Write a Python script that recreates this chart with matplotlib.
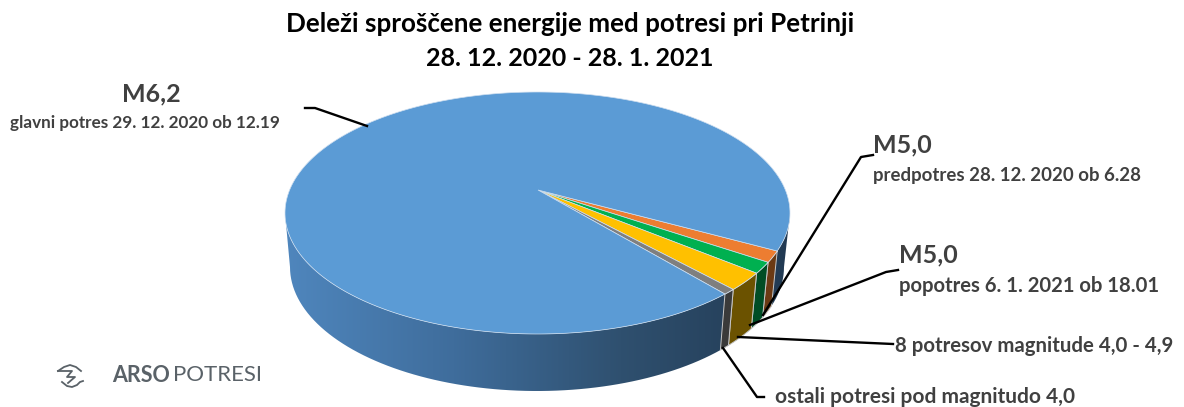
import numpy as np
import matplotlib
matplotlib.use('Agg')
import matplotlib.pyplot as plt
from matplotlib.colors import LinearSegmentedColormap
from matplotlib.patches import Polygon

# shares of released energy, % (clockwise)
names = ['predpotres', 'popotres', '8 potresov', 'ostali', 'glavni potres']
shares = [1.6, 1.6, 2.6, 0.8, 93.4]
top_colors = ['#ed7d31', '#00b050', '#ffc000', '#7f7f7f', '#5b9bd5']
side_colors = ['#6b3a14', '#004d25', '#6b5200', '#3a3a3a', None]

title_lines = ['Deleži sproščene energije med potresi pri Petrinji', '28. 12. 2020 - 28. 1. 2021']
label_color = '#404040'

plt.rcParams['font.family'] = ['Lato', 'DejaVu Sans']

fig = plt.figure(figsize=(11.84, 4.07), dpi=100)
ax = fig.add_axes([0, 0, 1, 1])


def rim(t):
    return np.column_stack([537.5 + 252.5 * np.cos(t), 213 + 121 * np.sin(t)])


def rim_low(t):
    return np.column_stack([537 + 247 * np.cos(t), 267 + 124 * np.sin(t)])


def wall(t0, t1):
    t = np.linspace(t0, t1, 100)
    return np.vstack([rim(t), rim_low(t)[::-1]])


start = np.radians(18.3)
edges = start + np.cumsum([0] + shares) / 100 * 2 * np.pi

# side of the pie, gradient from left to right
cmap = LinearSegmentedColormap.from_list('side', ['#4f86bd', '#3f6d9c', '#2f506f', '#223a53'])
im = ax.imshow(np.linspace(0, 1, 256).reshape(1, -1), cmap=cmap, extent=[285, 790, 400, 200], aspect='auto', zorder=1)
wall_all = Polygon(wall(0, np.pi), closed=True, transform=ax.transData, facecolor='none', edgecolor='none')
ax.add_patch(wall_all)
im.set_clip_path(wall_all)

for i in range(4):
    ax.add_patch(Polygon(wall(edges[i], edges[i + 1]), closed=True, facecolor=side_colors[i],
                         edgecolor='#c8c8c8', linewidth=0.7, zorder=2))

# top face
for i in range(5):
    t = np.linspace(edges[i], edges[i + 1], 300)
    pts = np.vstack([[538, 190], rim(t)])
    ax.add_patch(Polygon(pts, closed=True, facecolor=top_colors[i], edgecolor='#cfdff0', linewidth=0.5, zorder=3))

# leader lines
leaders = [
    ([305, 315, 367], [108, 108, 126]),
    ([873, 861, 763], [155, 157, 315]),
    ([898, 886, 750], [270, 272, 325]),
    ([893, 738], [344, 337]),
    ([764, 757, 723], [397, 397, 348]),
]
for xs, ys in leaders:
    ax.plot(xs, ys, color='black', linewidth=1.7, zorder=4)

# title
ax.text(570, 24, title_lines[0], ha='center', va='center', fontsize=18.7, fontweight='bold', color='black')
ax.text(570, 58, title_lines[1], ha='center', va='center', fontsize=18, fontweight='bold', color='black')

# labels
ax.text(151, 94, 'M6,2', ha='center', va='center', fontsize=18, fontweight='bold', color=label_color)
ax.text(10, 123, 'glavni potres 29. 12. 2020 ob 12.19', ha='left', va='center', fontsize=12.3, fontweight='bold', color=label_color)
ax.text(873, 145, 'M5,0', ha='left', va='center', fontsize=18, fontweight='bold', color=label_color)
ax.text(873, 176, 'predpotres 28. 12. 2020 ob 6.28', ha='left', va='center', fontsize=13.4, fontweight='bold', color=label_color)
ax.text(899, 255, 'M5,0', ha='left', va='center', fontsize=18, fontweight='bold', color=label_color)
ax.text(899, 286, 'popotres 6. 1. 2021 ob 18.01', ha='left', va='center', fontsize=14.6, fontweight='bold', color=label_color)
ax.text(895, 346, '8 potresov magnitude 4,0 - 4,9', ha='left', va='center', fontsize=14.7, fontweight='bold', color=label_color)
ax.text(775, 397, 'ostali potresi pod magnitudo 4,0', ha='left', va='center', fontsize=15, fontweight='bold', color=label_color)

# logo
logo_color = '#5a6268'
ax.plot([58, 64, 70, 76, 81], [371, 367, 365, 367, 371], color=logo_color, linewidth=1.3)
ax.plot([58, 72, 67, 75, 68], [371, 371, 377, 377, 383], color=logo_color, linewidth=1.3)
ax.plot([62, 67, 72, 77, 80, 83], [382, 386, 387, 385, 382, 381], color=logo_color, linewidth=1.3)
ax.text(112, 375, 'ARSO', ha='left', va='center', fontsize=15.5, fontweight='bold', color=logo_color)
ax.text(173, 375, 'POTRESI', ha='left', va='center', fontsize=16, color=logo_color)

ax.set_xlim(0, 1184)
ax.set_ylim(407, 0)
ax.axis('off')

fig.savefig('out.png', dpi=100)
